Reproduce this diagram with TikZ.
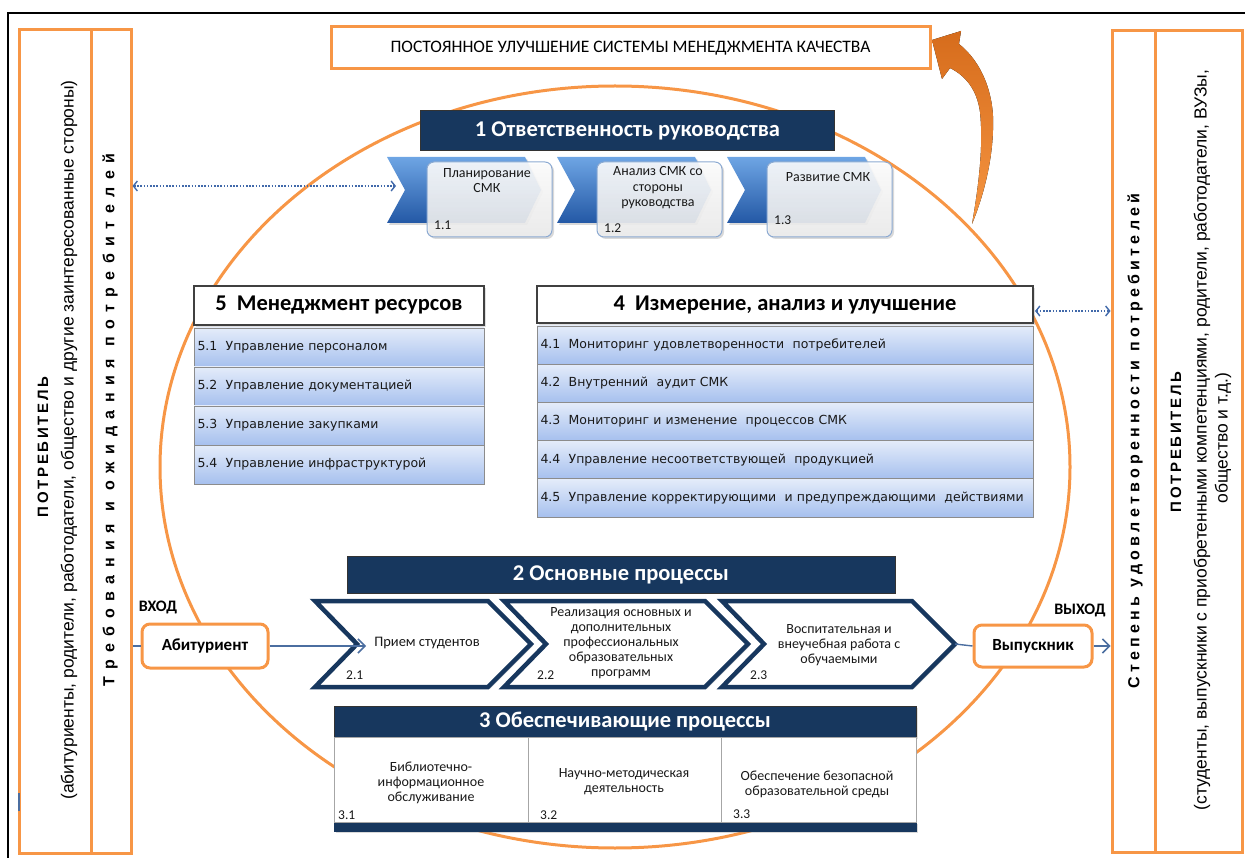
\documentclass[tikz,border=0pt]{standalone}
\usepackage{fontspec}
\setmainfont{Carlito}
\newfontfamily\arialf{Liberation Sans}
\newfontfamily\verdf{DejaVu Sans}
\usetikzlibrary{arrows.meta,shadows,calc}

\definecolor{orng}{RGB}{247,150,70}
\definecolor{navy}{RGB}{23,55,94}
\definecolor{dotblue}{RGB}{65,105,170}
\definecolor{lineblue}{RGB}{75,110,160}
\definecolor{itemtop}{RGB}{228,236,250}
\definecolor{itembot}{RGB}{166,192,238}
\definecolor{chevtop}{RGB}{110,165,228}
\definecolor{chevbot}{RGB}{35,88,165}
\definecolor{arrtop}{RGB}{214,108,28}
\definecolor{arrbot}{RGB}{246,150,66}
\definecolor{boxedge}{RGB}{140,170,210}

\newcommand\fsz[2]{\fontsize{#1pt}{#2pt}\selectfont}

\begin{document}
\begin{tikzpicture}[x=1pt,y=-1pt,
  panel/.style={draw=orng, line width=3pt, fill=white, inner sep=0pt},
  obox/.style={draw=orng, line width=3pt, fill=white, inner sep=0pt},
  rbox/.style={draw=orng, line width=3pt, fill=white, inner sep=0pt, rounded corners=8pt,
    font=\bfseries\fsz{17}{19}},
  navyhdr/.style={fill=navy, draw=black!80, line width=0.8pt, text=white, inner sep=0pt,
    font=\bfseries\fsz{22.5}{25}},
  whitehdr/.style={fill=white, draw=black!75, line width=2pt, inner sep=0pt,
    font=\bfseries\fsz{22.5}{25}, drop shadow={shadow xshift=2pt,shadow yshift=-2pt,opacity=0.25}},
  itemrow/.style={top color=itemtop, bottom color=itembot, draw=black!45, line width=0.8pt,
    inner xsep=3.5pt, inner ysep=0pt, align=left, font=\verdf\fsz{12.5}{15}, text=black!90,
    minimum height=39pt},
  bluechev/.style={top color=chevtop, bottom color=chevbot, draw=none,
    drop shadow={shadow xshift=2pt,shadow yshift=-2pt,opacity=0.3}},
  wbox/.style={draw=boxedge, line width=1pt, rounded corners=7pt, top color=white, bottom color=black!7,
    fill opacity=0.88, minimum width=125pt, minimum height=75pt, inner sep=0pt,
    drop shadow={shadow xshift=2pt,shadow yshift=-2pt,opacity=0.3}},
  navychev/.style={draw=navy, line width=4.5pt, fill=white, line join=miter,
    drop shadow={shadow xshift=2pt,shadow yshift=-2pt,opacity=0.2}},
  cell/.style={draw=black!35, line width=0.8pt, fill=white, inner sep=0pt, minimum height=85pt},
  txt/.style={font=\fsz{14}{15.5}, align=center, text=black!90, inner sep=0pt},
  num/.style={font=\fsz{13.5}{15}, anchor=west, text=black!90, inner sep=0pt},
  dotarrow/.style={dotblue, line width=1.6pt, dash pattern=on 1.6pt off 1.6pt,
    {Straight Barb[length=4pt,width=10pt,line width=1.4pt]}-{Straight Barb[length=4pt,width=10pt,line width=1.4pt]}},
  flow/.style={lineblue, line width=1.4pt},
  flowarrow/.style={lineblue, line width=1.4pt, -{Straight Barb[length=7pt,width=14pt,line width=1.5pt]}},
  vtitle/.style={rotate=90, inner sep=0pt, text=black}
]
\useasboundingbox (0,0) rectangle (1245,858);

% outer frame
\draw[black, line width=2.5pt] (8,858) -- (8,13) -- (1245,13);

% big orange ellipse
\draw[orng, line width=3pt] (615,467) ellipse [x radius=455pt, y radius=381pt];

% left panel
\node[panel, minimum width=72pt, minimum height=823pt] (lcons) at (55,441.5) {};
\node[panel, minimum width=40pt, minimum height=823pt] (lreq) at (111,441.5) {};
\draw[lineblue, line width=2pt] (19,793) -- (19,811);
\node[vtitle, font=\arialf\bfseries\fsz{15}{17}\addfontfeature{LetterSpace=18}] (lconsT) at (43,447) {ПОТРЕБИТЕЛЬ};
\node[vtitle, font=\arialf\fsz{17.5}{20}] (lconsS) at (69,440) {(абитуриенты, родители, работодатели, общество и другие заинтересованные стороны)};
\node[vtitle, font=\arialf\bfseries\fsz{16}{18}\addfontfeature{LetterSpace=47}] (lreqT) at (110,420) {Требования и ожидания потребителей};

% right panel
\node[panel, minimum width=43pt, minimum height=821pt] (rsat) at (1133.5,441.5) {};
\node[panel, minimum width=87pt, minimum height=821pt] (rcons) at (1198.5,441.5) {};
\node[vtitle, font=\arialf\bfseries\fsz{16}{18}\addfontfeature{LetterSpace=27}] (rsatT) at (1135,441) {Степень удовлетворенности потребителей};
\node[vtitle, font=\arialf\bfseries\fsz{15}{17}\addfontfeature{LetterSpace=18}] (rconsT) at (1176,442) {ПОТРЕБИТЕЛЬ};
\node[vtitle, font=\arialf\fsz{17.5}{20}] (rconsS1) at (1202,440) {(студенты, выпускники с приобретенными компетенциями, родители, работодатели, ВУЗы,};
\node[vtitle, font=\arialf\fsz{17.5}{20}] (rconsS2) at (1223,438) {общество и т.д.)};

% top improvement box and arrow
\node[obox, minimum width=599pt, minimum height=42pt, font=\fsz{17.5}{20}] (improve) at (630.5,48) {ПОСТОЯННОЕ УЛУЧШЕНИЕ СИСТЕМЫ МЕНЕДЖМЕНТА КАЧЕСТВА};
\fill[top color=arrtop, bottom color=arrbot] (932,40) -- (961,31) -- (959,44)
  .. controls (982,62) and (995,95) .. (993,130)
  .. controls (992,165) and (982,200) .. (972,224)
  .. controls (977,195) and (984,150) .. (980,112)
  .. controls (977,90) and (966,76) .. (950,68)
  -- (942,79) -- cycle;

% section 1
\node[navyhdr, minimum width=414pt, minimum height=40pt] (h1) at (627.5,130.5) {1 Ответственность руководства};
\path[bluechev] (387,157) -- (525,157) -- (541,190) -- (525,223) -- (387,223) -- (405,190) -- cycle;
\path[bluechev] (557,157) -- (695,157) -- (711,190) -- (695,223) -- (557,223) -- (575,190) -- cycle;
\path[bluechev] (727,157) -- (865,157) -- (881,190) -- (865,223) -- (727,223) -- (745,190) -- cycle;
\node[wbox] (c11) at (489.5,199.5) {};
\node[wbox] (c12) at (659.5,199.5) {};
\node[wbox] (c13) at (829.5,199.5) {};
\node[txt] (c11t) at (487,180.5) {Планирование\\СМК};
\node[num] (c11n) at (434,225) {1.1};
\node[txt] (c12t) at (658,188) {Анализ СМК со\\стороны\\руководства};
\node[num] (c12n) at (604,228) {1.2};
\node[txt] (c13t) at (828,177) {Развитие СМК};
\node[num] (c13n) at (774,220) {1.3};
\coordinate (dl) at (396,186);
\draw[dotarrow] (lreq.east |- dl) -- (dl);

% section 5
\node[whitehdr, minimum width=290pt, minimum height=39pt] (h5) at (339,305.5) {5\ \ Менеджмент ресурсов};
\node[itemrow, minimum width=290pt, text width=283pt] (r51) at (339,347.5) {5.1\ \ Управление персоналом};
\node[itemrow, minimum width=290pt, text width=283pt] (r52) at (339,386.5) {5.2\ \ Управление документацией};
\node[itemrow, minimum width=290pt, text width=283pt] (r53) at (339,425.5) {5.3\ \ Управление закупками};
\node[itemrow, minimum width=290pt, text width=283pt] (r54) at (339,464.5) {5.4\ \ Управление инфраструктурой};

% section 4
\node[whitehdr, minimum width=496pt, minimum height=37pt] (h4) at (785,304.5) {4\ \ Измерение, анализ и улучшение};
\node[itemrow, minimum width=496pt, text width=489pt, minimum height=38.2pt] (r41) at (785,345.1) {4.1\ \ Мониторинг удовлетворенности\ \ потребителей};
\node[itemrow, minimum width=496pt, text width=489pt, minimum height=38.2pt] (r42) at (785,383.3) {4.2\ \ Внутренний\ \ аудит СМК};
\node[itemrow, minimum width=496pt, text width=489pt, minimum height=38.2pt] (r43) at (785,421.5) {4.3\ \ Мониторинг и изменение\ \ процессов СМК};
\node[itemrow, minimum width=496pt, text width=489pt, minimum height=38.2pt] (r44) at (785,459.7) {4.4\ \ Управление несоответствующей\ \ продукцией};
\node[itemrow, minimum width=496pt, text width=489pt, minimum height=38.2pt] (r45) at (785,497.9) {4.5\ \ Управление корректирующими\ \ и предупреждающими\ \ действиями};
\coordinate (dr) at (1035,311);
\draw[dotarrow] (dr) -- (rsat.west |- dr);

% section 2
\node[navyhdr, minimum width=548pt, minimum height=37pt] (h2) at (621,574.5) {2 Основные процессы};
\path[navychev] (315,601) -- (488,601) -- (531,644) -- (488,687) -- (315,687) -- (357,644) -- cycle;
\path[navychev] (504,601) -- (705,601) -- (748,644) -- (705,687) -- (504,687) -- (546,644) -- cycle;
\path[navychev] (722,601) -- (912,601) -- (955,644) -- (912,687) -- (722,687) -- (764,644) -- cycle;
\coordinate (p21notch) at (366,646);
\coordinate (p23tip) at (955,644);
\node[txt, font=\fsz{14.5}{15.5}] (p21t) at (427,643) {Прием студентов};
\node[txt, font=\fsz{14}{15}] (p22t) at (621,643) {Реализация основных и\\дополнительных\\профессиональных\\образовательных\\программ};
\node[txt, font=\fsz{14}{15}] (p23t) at (839,645) {Воспитательная и\\внеучебная работа с\\обучаемыми};
\node[num] (p21n) at (346,675) {2.1};
\node[num] (p22n) at (537,675) {2.2};
\node[num] (p23n) at (750,675) {2.3};

\node[rbox, minimum width=126pt, minimum height=44pt] (abit) at (205,646) {Абитуриент};
\node[rbox, minimum width=118pt, minimum height=42pt] (vyp) at (1033,646) {Выпускник};
\node[font=\bfseries\fsz{16}{18}, inner sep=0pt] (vhod) at (158,607) {ВХОД};
\node[font=\bfseries\fsz{16}{18}, inner sep=0pt] (vyhod) at (1080,610) {ВЫХОД};
\draw[flow] (lreq.east |- abit.west) -- (abit.west);
\draw[flowarrow] (abit.east) -- (p21notch);
\draw[flow] (p23tip) -- (vyp.west);
\draw[flowarrow] (vyp.east) -- (rsat.west |- vyp.east);

% section 3
\node[navyhdr, minimum width=582pt, minimum height=31pt,
  drop shadow={shadow xshift=2pt,shadow yshift=-2pt,opacity=0.25}] (h3) at (625,721.5) {3 Обеспечивающие процессы};
\node[fill=navy, draw=navy, minimum width=582pt, minimum height=9pt, inner sep=0pt,
  drop shadow={shadow xshift=2pt,shadow yshift=-2pt,opacity=0.3}] (b3) at (625,826.5) {};
\node[cell, minimum width=194pt] (s31) at (431,779.5) {};
\node[cell, minimum width=193pt] (s32) at (624.5,779.5) {};
\node[cell, minimum width=195pt] (s33) at (818.5,779.5) {};
\node[txt, font=\fsz{14}{15}] (s31t) at (431,783) {Библиотечно-\\информационное\\обслуживание};
\node[txt, font=\fsz{14}{15}] (s32t) at (624,782) {Научно-методическая\\деятельность};
\node[txt, font=\fsz{14}{15}] (s33t) at (817,784) {Обеспечение безопасной\\образовательной среды};
\node[num] (s31n) at (338,815) {3.1};
\node[num] (s32n) at (540,815) {3.2};
\node[num] (s33n) at (733,814) {3.3};
\end{tikzpicture}
\end{document}
